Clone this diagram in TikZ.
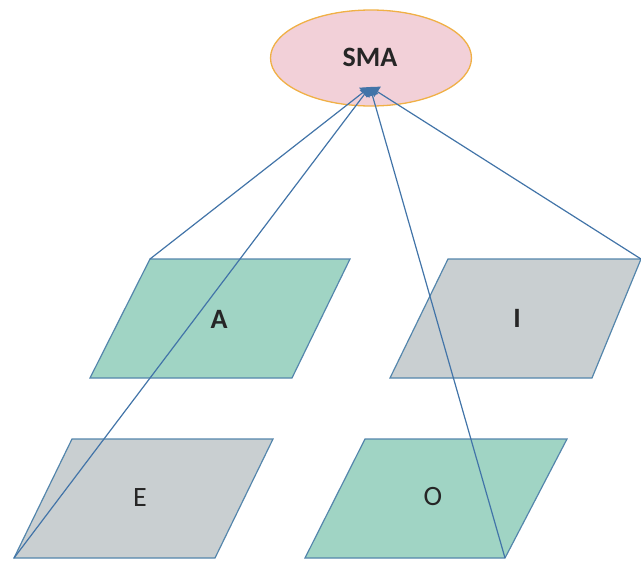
\documentclass[tikz,border=0pt]{standalone}
\usepackage{fontspec}
\setmainfont{Carlito}
\usetikzlibrary{arrows.meta,shapes.geometric}
\definecolor{teal1}{RGB}{160,212,196}
\definecolor{gray1}{RGB}{201,207,209}
\definecolor{edge1}{RGB}{84,134,172}
\definecolor{line1}{RGB}{66,116,168}
\definecolor{pink1}{RGB}{242,208,216}
\definecolor{gold1}{RGB}{240,176,70}
\tikzset{
  para/.style={draw=edge1, line width=1.2pt},
  lbl/.style={font=\fontsize{28}{32}\selectfont, text=black!85, inner sep=0pt},
  blbl/.style={lbl, font=\fontsize{28}{32}\selectfont\bfseries},
  conn/.style={draw=line1, line width=1.2pt, -{Triangle[length=9pt,width=12pt]}},
}
\begin{document}
\begin{tikzpicture}[x=1pt,y=-1pt]
\useasboundingbox (0,0) rectangle (641,563);
% ellipse
\node[ellipse, draw=gold1, fill=pink1, line width=1.3pt, minimum width=201pt, minimum height=96pt, inner sep=0pt] (sma) at (371,58) {};
\node[blbl] (smal) at (370,57) {SMA};
\coordinate (tip) at (370,87);
% A
\coordinate (a1) at (150,259); \coordinate (a2) at (350,259);
\coordinate (a3) at (292,378); \coordinate (a4) at (90,378);
\fill[teal1] (a1) -- (a2) -- (a3) -- (a4) -- cycle;
\draw[para] (a1) -- (a2) -- (a3) -- (a4) -- cycle;
\node[blbl] (A) at (219,319) {A};
% I
\coordinate (i1) at (448,259); \coordinate (i2) at (641,259);
\coordinate (i3) at (592,378); \coordinate (i4) at (390,378);
\fill[gray1] (i1) -- (i2) -- (i3) -- (i4) -- cycle;
\draw[para] (i1) -- (i2) -- (i3) -- (i4) -- cycle;
\node[blbl] (I) at (517,318) {I};
% E
\coordinate (e1) at (72,439); \coordinate (e2) at (273,439);
\coordinate (e3) at (215,558); \coordinate (e4) at (14,558);
\fill[gray1] (e1) -- (e2) -- (e3) -- (e4) -- cycle;
\draw[para] (e1) -- (e2) -- (e3) -- (e4) -- cycle;
\node[lbl] (E) at (140,498) {E};
% O
\coordinate (o1) at (365,439); \coordinate (o2) at (567,439);
\coordinate (o3) at (505,558); \coordinate (o4) at (305,558);
\fill[teal1] (o1) -- (o2) -- (o3) -- (o4) -- cycle;
\draw[para] (o1) -- (o2) -- (o3) -- (o4) -- cycle;
\node[lbl] (O) at (433,497) {O};
% connectors
\draw[conn] (a1) -- (tip);
\draw[conn] (i2) -- (tip);
\draw[conn] (e4) -- (tip);
\draw[conn] (o3) -- (tip);
\end{tikzpicture}
\end{document}
